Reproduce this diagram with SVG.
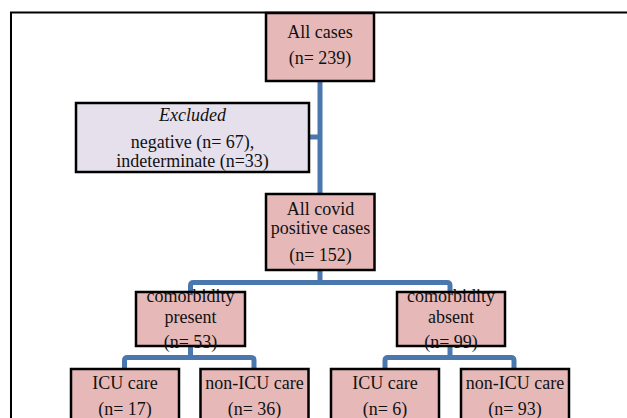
<svg xmlns="http://www.w3.org/2000/svg" width="627" height="418" viewBox="0 0 627 418">
<style>
.box{fill:#e6b9b8;stroke:#000;stroke-width:2.5}
.exc{fill:#e5e0ec;stroke:#000;stroke-width:2.5}
.t{font-family:"Liberation Serif","Times New Roman",serif;font-size:18px;fill:#111;text-anchor:middle}
.i{font-style:italic}
.c{fill:none;stroke:#4a77ad;stroke-width:5;stroke-linejoin:round}
</style>
<rect width="627" height="418" fill="#fff"/>
<rect x="11" y="12.5" width="700" height="500" fill="none" stroke="#000" stroke-width="2"/>
<g id="connectors">
<path class="c" d="M320,81 V194"/>
<path class="c" d="M309,137 H320"/>
<path class="c" d="M320,270 V282.5 M190.5,292 V285.5 Q190.5,282.5 193.5,282.5 H447 Q450,282.5 450,285.5 V292"/>
<path class="c" d="M190.5,346 V357.5 M124.5,369 V360.5 Q124.5,357.5 127.5,357.5 H251 Q254,357.5 254,360.5 V369"/>
<path class="c" d="M450,346 V357.5 M385,369 V360.5 Q385,357.5 388,357.5 H511 Q514,357.5 514,360.5 V369"/>
</g>
<g id="all-cases">
<rect class="box" x="266" y="13" width="108" height="68"/>
<text class="t" x="320" y="38">All cases</text>
<text class="t" x="320" y="64">(n= 239)</text>
</g>
<g id="excluded">
<rect class="exc" x="76" y="103" width="233" height="69"/>
<text class="t i" x="192.5" y="121">Excluded</text>
<text class="t" x="192.5" y="148">negative (n= 67),</text>
<text class="t" x="192.5" y="166.5">indeterminate (n=33)</text>
</g>
<g id="covid-positive">
<rect class="box" x="266" y="194" width="108.5" height="76"/>
<text class="t" x="320.5" y="215">All covid</text>
<text class="t" x="320.5" y="233.5">positive cases</text>
<text class="t" x="320.5" y="260.5">(n= 152)</text>
</g>
<g id="comorbidity-present">
<rect class="box" x="136" y="292" width="109" height="54"/>
<text class="t" x="190.5" y="302">comorbidity</text>
<text class="t" x="190.5" y="323">present</text>
<text class="t" x="190.5" y="348">(n= 53)</text>
</g>
<g id="comorbidity-absent">
<rect class="box" x="397" y="292" width="108" height="54"/>
<text class="t" x="451" y="302">comorbidity</text>
<text class="t" x="451" y="323">absent</text>
<text class="t" x="451" y="348">(n= 99)</text>
</g>
<g id="icu-present">
<rect class="box" x="71" y="369" width="108" height="80"/>
<text class="t" x="125" y="389">ICU care</text>
<text class="t" x="125" y="415">(n= 17)</text>
</g>
<g id="nonicu-present">
<rect class="box" x="200.5" y="369" width="108" height="80"/>
<text class="t" x="254.5" y="389">non-ICU care</text>
<text class="t" x="254.5" y="415">(n= 36)</text>
</g>
<g id="icu-absent">
<rect class="box" x="331" y="369" width="108" height="80"/>
<text class="t" x="385" y="389">ICU care</text>
<text class="t" x="385" y="415">(n= 6)</text>
</g>
<g id="nonicu-absent">
<rect class="box" x="461" y="369" width="108" height="80"/>
<text class="t" x="515" y="389">non-ICU care</text>
<text class="t" x="515" y="415">(n= 93)</text>
</g>
</svg>
